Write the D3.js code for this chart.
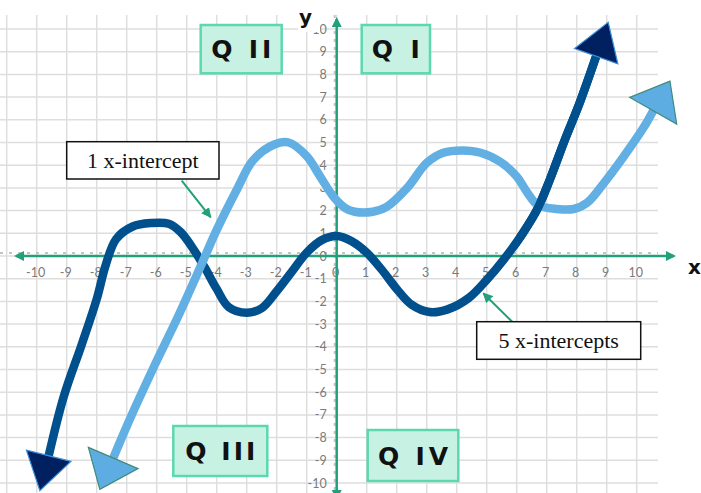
<!DOCTYPE html>
<html><head><meta charset="utf-8">
<script src="https://cdn.jsdelivr.net/npm/d3@7"></script>
<style>body{margin:0;background:#fff;} svg{display:block;}</style>
</head><body>
<svg id="chart" width="701" height="493"></svg>
<script>
// ---------- data ----------
const xTickValues = d3.range(-10, 11);
const yTickValues = d3.range(-10, 11);
const quadrantNames = ["Q II", "Q I", "Q III", "Q IV"];
const calloutTexts = ["1 x-intercept", "5 x-intercepts"];
// dark blue curve (5 x-intercepts)
const darkX = [-9.6,-9.1,-8.5,-8.0,-7.7,-7.35,-6.8,-6.2,-5.6,-5.2,-4.8,-4.4,-4.0,-3.6,-3.0,-2.5,-2.0,-1.5,-1.0,-0.5,0.0,0.5,1.0,1.5,2.0,2.5,3.1,3.7,4.4,5.0,5.6,6.2,6.7,7.1,7.6,8.1,8.65];
const darkY = [-8.8,-6.2,-3.9,-1.9,-0.4,0.75,1.3,1.45,1.42,1.05,0.35,-0.5,-1.45,-2.25,-2.5,-2.3,-1.55,-0.7,0.15,0.7,0.88,0.65,0.15,-0.6,-1.45,-2.15,-2.47,-2.35,-1.85,-1.05,-0.1,1.0,2.1,3.35,5.1,6.75,8.8];
// light blue curve (1 x-intercept)
const lightX = [-7.45,-6.9,-6.1,-5.3,-4.55,-4.0,-3.3,-2.8,-2.1,-1.6,-1.0,-0.55,-0.1,0.3,0.6,1.2,1.65,2.35,3.0,3.55,4.2,4.8,5.45,6.0,6.35,6.7,7.35,7.9,8.35,8.9,9.55,10.25,10.55];
const lightY = [-8.9,-7.2,-4.9,-2.7,-0.5,1.15,3.0,4.2,4.9,5.0,4.4,3.5,2.6,2.1,1.95,1.95,2.15,3.0,4.1,4.55,4.65,4.55,4.15,3.5,2.8,2.25,2.07,2.07,2.35,3.2,4.35,5.7,6.4];

const darkPts = darkX.map((x,i)=>[x,darkY[i]]);
const lightPts = lightX.map((x,i)=>[x,lightY[i]]);

// ---------- setup ----------
const W = 701, H = 493;
const svg = d3.select("#chart");
const x = d3.scaleLinear().domain([-10,10]).range([36.7,636.7]);
const y = d3.scaleLinear().domain([-10,10]).range([483,29]);
const green = "#21a079";

const defs = svg.append("defs");
defs.append("marker").attr("id","garrow").attr("viewBox","0 0 10 10")
  .attr("refX",8).attr("refY",5).attr("markerWidth",4).attr("markerHeight",4)
  .attr("orient","auto-start-reverse").attr("markerUnits","strokeWidth")
  .append("path").attr("d","M0,0 L10,5 L0,10 z").attr("fill",green);
defs.append("clipPath").attr("id","rightClip").append("rect")
  .attr("x", x(6.0)).attr("y",0).attr("width",W).attr("height",H);

// ---------- grid ----------
const grid = svg.append("g").attr("stroke","#dedede").attr("stroke-width",1.5);
grid.selectAll("line.v").data(d3.range(-11,11)).join("line")
  .attr("x1",d=>x(d)).attr("x2",d=>x(d)).attr("y1",15).attr("y2",H);
grid.selectAll("line.h").data(d3.range(-10,11)).join("line")
  .attr("x1",0).attr("x2",658).attr("y1",d=>y(d)).attr("y2",d=>y(d));

// dotted minor tick rows along axes
svg.append("line").attr("x1",0).attr("x2",658).attr("y1",y(0)-3).attr("y2",y(0)-3)
  .attr("stroke","#c4c4c4").attr("stroke-width",2).attr("stroke-dasharray","3,6");
svg.append("line").attr("x1",x(0)-2).attr("x2",x(0)-2).attr("y1",15).attr("y2",H)
  .attr("stroke","#c4c4c4").attr("stroke-width",2).attr("stroke-dasharray","3,5");

// ---------- tick labels ----------
const lab = svg.append("g").attr("font-family","Lato, 'Open Sans', sans-serif")
  .attr("font-size",12.5).attr("fill","#7a7a7a");
lab.selectAll("text.xt").data(xTickValues).join("text")
  .attr("x",d=>x(d)-1).attr("y",y(0)+21).attr("text-anchor","middle").text(d=>d);
lab.selectAll("text.yt").data(yTickValues).join("text")
  .attr("x",x(0)-10).attr("y",d=>y(d)+4.5).attr("text-anchor","end").text(d=>d);

// ---------- axes ----------
svg.append("line").attr("x1",16).attr("x2",674).attr("y1",y(0)).attr("y2",y(0))
  .attr("stroke",green).attr("stroke-width",2.5)
  .attr("marker-start","url(#garrow)").attr("marker-end","url(#garrow)");
svg.append("line").attr("x1",x(0)).attr("x2",x(0)).attr("y1",19).attr("y2",498)
  .attr("stroke",green).attr("stroke-width",2.5)
  .attr("marker-start","url(#garrow)").attr("marker-end","url(#garrow)");

// axis titles
svg.append("rect").attr("x",298).attr("y",4).attr("width",22).attr("height",28).attr("fill","#fff");
svg.append("text").attr("x",299).attr("y",24).attr("font-family","'DejaVu Sans', sans-serif")
  .attr("font-weight","bold").attr("font-size",20).attr("fill","#111").text("y");
svg.append("text").attr("x",688).attr("y",274).attr("font-family","'DejaVu Sans', sans-serif")
  .attr("font-weight","bold").attr("font-size",20).attr("fill","#111").text("x");

// ---------- curves ----------
const line = d3.line().x(d=>x(d[0])).y(d=>y(d[1])).curve(d3.curveCatmullRom.alpha(0.5));
const darkColor = "#00508e", lightColor = "#62afe4";

function drawCurve(pts, color, clip){
  const p = svg.append("path").attr("d", line(pts)).attr("fill","none")
    .attr("stroke",color).attr("stroke-width",8.5).attr("stroke-linejoin","round");
  if (clip) p.attr("clip-path","url(#"+clip+")");
}
function arrowHead(pts, atEnd, len, wid, fill, stroke){
  const n = pts.length;
  const a = atEnd ? pts[n-2] : pts[1];
  const b = atEnd ? pts[n-1] : pts[0];
  const ax = x(a[0]), ay = y(a[1]), bx = x(b[0]), by = y(b[1]);
  let dx = bx-ax, dy = by-ay; const L = Math.hypot(dx,dy); dx/=L; dy/=L;
  const nx = -dy, ny = dx;
  const tip = [bx+dx*len, by+dy*len];
  const c1 = [bx+nx*wid/2, by+ny*wid/2], c2 = [bx-nx*wid/2, by-ny*wid/2];
  svg.append("path").attr("d","M"+tip+"L"+c1+"L"+c2+"Z")
    .attr("fill",fill).attr("stroke",stroke).attr("stroke-width",1.2);
}
drawCurve(darkPts, darkColor);
drawCurve(lightPts, lightColor);
drawCurve(darkPts, darkColor, "rightClip");
arrowHead(darkPts, false, 36, 46, "#002060", "#3d8fdc");
arrowHead(darkPts, true, 36, 46, "#002060", "#3d8fdc");
arrowHead(lightPts, false, 34, 54, "#5dace2", "#3f8b7a");
arrowHead(lightPts, true, 34, 54, "#5dace2", "#3f8b7a");

// ---------- quadrant labels ----------
const qBoxes = [[200.7,25,81,48.3,60],[361.7,25,68.3,48.3,48],[173.3,426,94,50,70],[367.7,430,90.6,51,70]];
quadrantNames.forEach((t,i)=>{
  const [bx,by,bw,bh,tw] = qBoxes[i];
  svg.append("rect").attr("x",bx).attr("y",by).attr("width",bw).attr("height",bh)
    .attr("fill","#c7f2e3").attr("stroke","#5cd8b1").attr("stroke-width",2.5);
  svg.append("text").attr("x",bx+bw/2-tw/2).attr("y",by+bh/2+9)
    .attr("font-family","'DejaVu Sans', sans-serif").attr("font-weight","bold")
    .attr("font-size",25).attr("fill","#111")
    .attr("textLength",tw).attr("lengthAdjust","spacing").text(t);
});

// ---------- callouts ----------
defs.append("marker").attr("id","carrow").attr("viewBox","0 0 10 10")
  .attr("refX",9).attr("refY",5).attr("markerWidth",5).attr("markerHeight",5)
  .attr("orient","auto").attr("markerUnits","strokeWidth")
  .append("path").attr("d","M0,0 L10,5 L0,10 z").attr("fill",green);
const callouts = [
  {box:[66.7,141.7,152.3,37.3], from:[181.7,180.7], to:[210.7,217.3]},
  {box:[476.7,321.7,164,37.6], from:[512.7,322.3], to:[483.3,293.3]}
];
callouts.forEach((c,i)=>{
  svg.append("line").attr("x1",c.from[0]).attr("y1",c.from[1]).attr("x2",c.to[0]).attr("y2",c.to[1])
    .attr("stroke",green).attr("stroke-width",2).attr("marker-end","url(#carrow)");
  const [bx,by,bw,bh] = c.box;
  svg.append("rect").attr("x",bx).attr("y",by).attr("width",bw).attr("height",bh)
    .attr("fill","#fff").attr("stroke","#111").attr("stroke-width",1.5);
  svg.append("text").attr("x",bx+bw/2).attr("y",by+bh/2+7.5).attr("text-anchor","middle")
    .attr("font-family","'Liberation Serif', serif").attr("font-size",22).attr("fill","#111")
    .text(calloutTexts[i]);
});
</script>
</body></html>
